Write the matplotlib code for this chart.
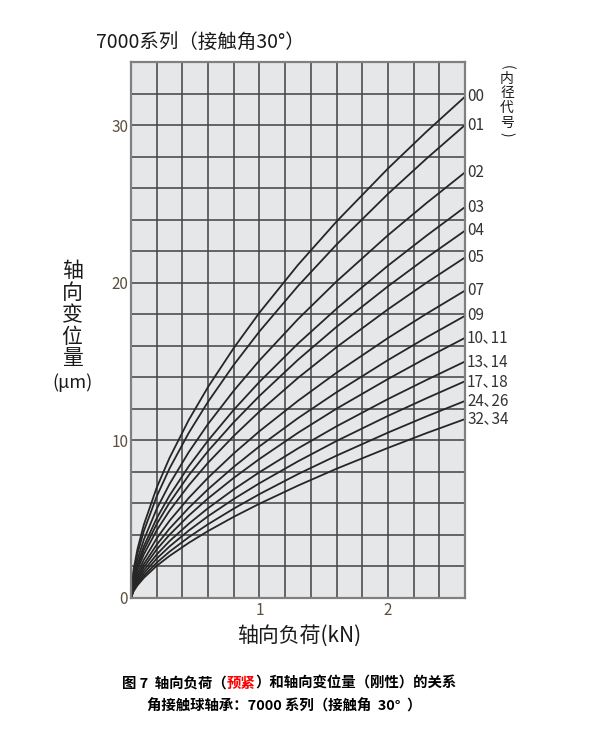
import matplotlib.pyplot as plt

plt.rcParams["font.family"] = ["Noto Sans CJK SC", "DejaVu Sans"]

# axial load (kN)
load = [0, 0.02, 0.05, 0.1, 0.2, 0.3, 0.45, 0.6, 0.8, 1.0, 1.3, 1.6, 2.0, 2.3, 2.6]

# axial displacement (um) per bore code
bore_codes = ["00", "01", "02", "03", "04", "05", "07", "09",
              "10､11", "13､14", "17､18", "24､26", "32､34"]
disp_00 = [0, 1.80, 3.09, 4.65, 7.00, 8.89, 11.30, 13.39, 15.86, 18.10, 21.13, 23.88, 27.24, 29.58, 31.8]
disp_01 = [0, 1.62, 2.80, 4.25, 6.44, 8.22, 10.48, 12.45, 14.79, 16.91, 19.79, 22.42, 25.63, 27.87, 30.0]
disp_02 = [0, 1.39, 2.42, 3.70, 5.65, 7.23, 9.26, 11.04, 13.15, 15.07, 17.69, 20.08, 23.01, 25.05, 27.0]
disp_03 = [0, 1.21, 2.14, 3.29, 5.06, 6.50, 8.36, 9.99, 11.94, 13.71, 16.14, 18.35, 21.08, 22.98, 24.8]
disp_04 = [0, 1.11, 1.97, 3.04, 4.69, 6.05, 7.79, 9.32, 11.15, 12.82, 15.11, 17.20, 19.77, 21.58, 23.3]
disp_05 = [0, 1.01, 1.79, 2.77, 4.29, 5.54, 7.15, 8.58, 10.28, 11.83, 13.96, 15.91, 18.31, 20.00, 21.6]
disp_07 = [0, 0.87, 1.56, 2.42, 3.78, 4.90, 6.35, 7.63, 9.17, 10.58, 12.51, 14.29, 16.49, 18.03, 19.5]
disp_09 = [0, 0.76, 1.37, 2.15, 3.38, 4.40, 5.72, 6.90, 8.32, 9.62, 11.41, 13.05, 15.09, 16.53, 17.9]
disp_10 = [0, 0.68, 1.24, 1.95, 3.08, 4.01, 5.23, 6.32, 7.62, 8.82, 10.48, 12.01, 13.89, 15.23, 16.5]
disp_13 = [0, 0.60, 1.11, 1.75, 2.76, 3.61, 4.71, 5.70, 6.89, 7.98, 9.49, 10.89, 12.62, 13.83, 15.0]
disp_17 = [0, 0.54, 0.99, 1.57, 2.50, 3.27, 4.28, 5.19, 6.28, 7.28, 8.67, 9.96, 11.55, 12.67, 13.75]
disp_24 = [0, 0.48, 0.89, 1.41, 2.24, 2.94, 3.86, 4.68, 5.67, 6.59, 7.86, 9.03, 10.49, 11.52, 12.5]
disp_32 = [0, 0.43, 0.80, 1.28, 2.04, 2.67, 3.50, 4.25, 5.15, 5.98, 7.13, 8.20, 9.52, 10.46, 11.35]
curves = [disp_00, disp_01, disp_02, disp_03, disp_04, disp_05, disp_07,
          disp_09, disp_10, disp_13, disp_17, disp_24, disp_32]

x_ticks = [1, 2]
y_ticks = [0, 10, 20, 30]

W, H = 593, 730
fig = plt.figure(figsize=(W / 100, H / 100), dpi=100)
ax = fig.add_axes([131 / W, 1 - 598 / H, 334 / W, 536 / H])
ax.set_facecolor("#e6e7e9")

tick_col = "#5e4e3e"
ax.set_xlim(0, 2.6)
ax.set_ylim(0, 34)
ax.set_xticks(x_ticks)
ax.set_yticks(y_ticks)
ax.set_xticks([i * 0.2 for i in range(14)], minor=True)
ax.set_yticks(list(range(0, 35, 2)), minor=True)
ax.tick_params(which="both", length=0, labelsize=11, labelcolor=tick_col)
ax.tick_params(axis="x", pad=3)
ax.tick_params(axis="y", pad=2)
ax.grid(which="both", color="#474747", linewidth=1.15)
ax.set_axisbelow(True)
for s in ax.spines.values():
    s.set_color("#808080")
    s.set_linewidth(1.6)

for code, vals in zip(bore_codes, curves):
    ax.plot(load, vals, color="#262626", linewidth=1.3, solid_capstyle="round")
    ax.annotate(code, xy=(load[-1], vals[-1]), xytext=(1.5, 0),
                textcoords="offset points", ha="left", va="center",
                fontsize=11, color="#333333", annotation_clip=False)

# title
fig.text(96 / W, 1 - 42 / H, "7000系列（接触角30°）", fontsize=14,
         ha="left", va="center", color="#1a1a1a")

# vertical legend title
fig.text(507 / W, 1 - 67 / H, "(", rotation=-90, fontsize=10,
         ha="center", va="center", color="#1a1a1a")
for ch, yy in zip("内径代号", [79, 93.5, 108, 122.5]):
    fig.text(507 / W, 1 - yy / H, ch, fontsize=10, ha="center", va="center",
             color="#1a1a1a")
fig.text(507 / W, 1 - 134 / H, ")", rotation=-90, fontsize=10,
         ha="center", va="center", color="#1a1a1a")

# y label, stacked characters
for ch, yy in zip("轴向变位量", [271, 293, 315, 337, 358]):
    fig.text(72 / W, 1 - yy / H, ch, fontsize=15, ha="center", va="center",
             color="#1a1a1a")
fig.text(72 / W, 1 - 383 / H, "(μm)", fontsize=13, ha="center", va="center",
         color="#1a1a1a")

# x label
fig.text(299 / W, 1 - 636 / H, "轴向负荷(kN)", fontsize=15, ha="center",
         va="center", color="#1a1a1a")

# caption
t1 = fig.text(122 / W, 1 - 684 / H, "图 7  轴向负荷（", fontsize=10.4,
              fontweight="bold", ha="left", va="center")
t2 = fig.text(0, 0, "预紧", fontsize=10.4, fontweight="bold", color="red",
              ha="left", va="center")
t3 = fig.text(0, 0, "）和轴向变位量（刚性）的关系", fontsize=10.4,
              fontweight="bold", ha="left", va="center")
fig.canvas.draw()
r = fig.canvas.get_renderer()
bb = t1.get_window_extent(r)
t2.set_position((bb.x1 / fig.bbox.width, 1 - 684 / H))
bb = t2.get_window_extent(r)
t3.set_position((bb.x1 / fig.bbox.width, 1 - 684 / H))

fig.text(284 / W, 1 - 706 / H, "角接触球轴承：7000 系列（接触角  30°  ）",
         fontsize=10.4, fontweight="bold", ha="center", va="center")

fig.savefig("out.png", dpi=100)
